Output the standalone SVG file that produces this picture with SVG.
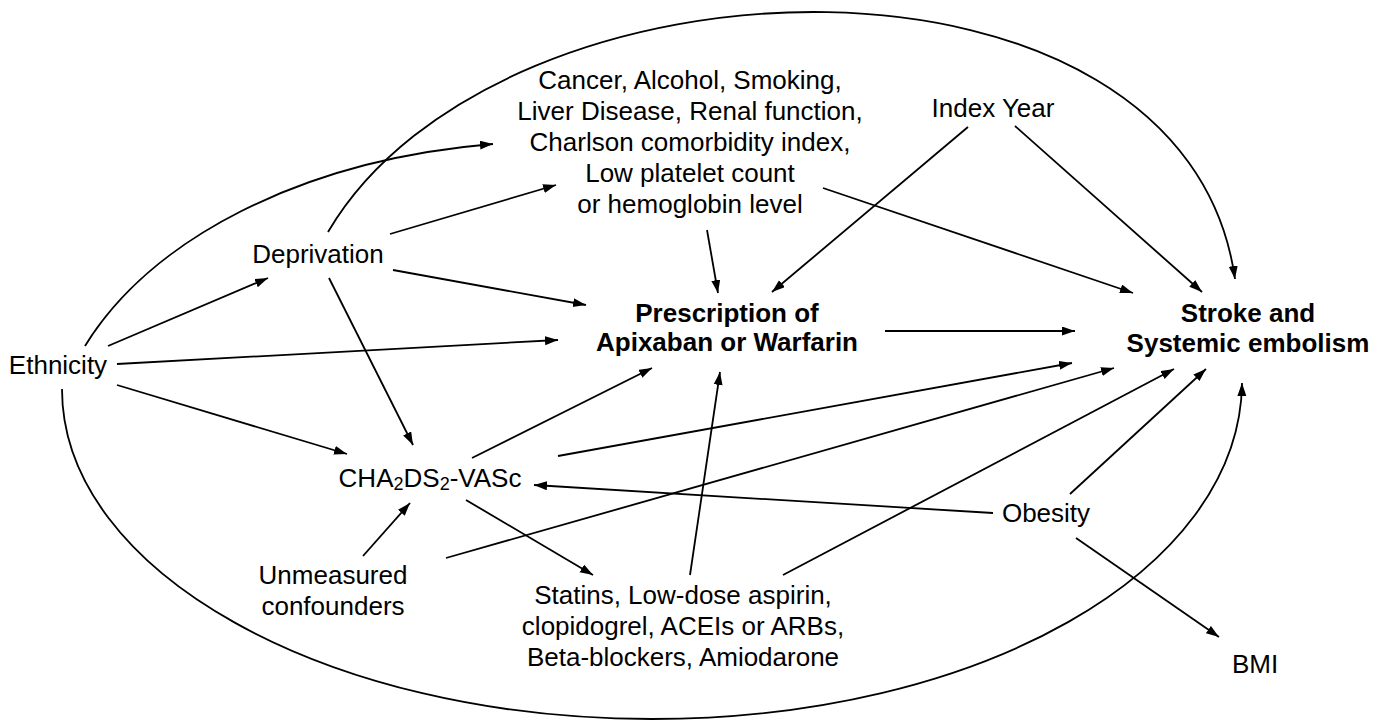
<svg xmlns="http://www.w3.org/2000/svg" width="1388" height="722" viewBox="0 0 1388 722">
<defs>
<marker id="ah" markerUnits="userSpaceOnUse" markerWidth="14" markerHeight="10" refX="13" refY="4.5" orient="auto">
<path d="M0,0 L13,4.5 L0,9 z" fill="#000"/>
</marker>
<style>
text{font-family:"Liberation Sans",Arial,Helvetica,sans-serif;font-size:26px;fill:#000;text-anchor:middle}
.b{font-weight:bold}
.e{fill:none;stroke:#000;stroke-width:1.8;marker-end:url(#ah)}
</style>
</defs>
<rect width="1388" height="722" fill="#fff"/>
<g id="connectors">
<path class="e" d="M108,346 L268,278"/>
<path class="e" d="M85,346 C150,240 300,160 493,144"/>
<path class="e" d="M117,364 L558,340"/>
<path class="e" d="M117,385 L347,454"/>
<path class="e" d="M62,389 C62,572 326,719 652,719 C978,719 1240,572 1242,383"/>
<path class="e" d="M328,232 C500,-60 1185,-78 1235,279"/>
<path class="e" d="M390,234 L556,185"/>
<path class="e" d="M393,270 L586,305"/>
<path class="e" d="M329,278 L413,445"/>
<path class="e" d="M707,230 L718,293"/>
<path class="e" d="M823,188 L1133,293"/>
<path class="e" d="M968,127 L772,292"/>
<path class="e" d="M1015,126 L1202,292"/>
<path class="e" d="M885,331 L1075,331"/>
<path class="e" d="M472,458 L652,368"/>
<path class="e" d="M558,456 L1072,363"/>
<path class="e" d="M446,558 L1114,368"/>
<path class="e" d="M783,575 L1174,369"/>
<path class="e" d="M1070,494 L1206,369"/>
<path class="e" d="M690,575 L720,372"/>
<path class="e" d="M466,500 L593,575"/>
<path class="e" d="M363,556 L410,503"/>
<path class="e" d="M993,513 L534,485"/>
<path class="e" d="M1076,538 L1219,637"/>
</g>
<g id="ethnicity"><text x="58" y="374">Ethnicity</text></g>
<g id="deprivation"><text x="318" y="263">Deprivation</text></g>
<g id="comorbidities">
<text x="690" y="89">Cancer, Alcohol, Smoking,</text>
<text x="690" y="120">Liver Disease, Renal function,</text>
<text x="690" y="151">Charlson comorbidity index,</text>
<text x="690" y="182">Low platelet count</text>
<text x="690" y="213">or hemoglobin level</text>
</g>
<g id="index-year"><text x="993" y="117">Index Year</text></g>
<g id="prescription">
<text class="b" x="727" y="322">Prescription of</text>
<text class="b" x="727" y="351">Apixaban or Warfarin</text>
</g>
<g id="stroke">
<text class="b" x="1248" y="322">Stroke and</text>
<text class="b" x="1248" y="352">Systemic embolism</text>
</g>
<g id="cha2ds2vasc"><text x="430" y="487">CHA<tspan font-size="18" dy="3">2</tspan><tspan dy="-3">DS</tspan><tspan font-size="18" dy="3">2</tspan><tspan dy="-3">-VASc</tspan></text></g>
<g id="unmeasured">
<text x="333" y="584">Unmeasured</text>
<text x="333" y="615">confounders</text>
</g>
<g id="medications">
<text x="683" y="604">Statins, Low-dose aspirin,</text>
<text x="683" y="635">clopidogrel, ACEIs or ARBs,</text>
<text x="683" y="666">Beta-blockers, Amiodarone</text>
</g>
<g id="obesity"><text x="1046" y="522">Obesity</text></g>
<g id="bmi"><text x="1255" y="673">BMI</text></g>
</svg>
